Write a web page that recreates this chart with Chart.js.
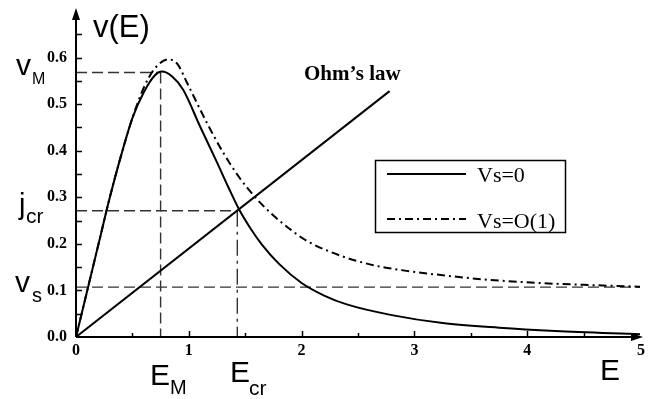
<!DOCTYPE html>
<html><head><meta charset="utf-8">
<script src="https://cdn.jsdelivr.net/npm/chart.js@4.4.1/dist/chart.umd.min.js"></script>
<style>html,body{margin:0;padding:0;background:#fff}canvas{display:block}</style>
</head><body>
<canvas id="c" width="654" height="399"></canvas>
<script>
// ---- data ----
const E_vs0 = [0, 0.1, 0.2, 0.3, 0.4, 0.5, 0.6, 0.7, 0.76, 0.85, 0.95, 1.1, 1.25, 1.35, 1.45, 1.55, 1.65, 1.8, 2.0, 2.2, 2.4, 2.8, 3.25, 3.75, 4.25, 5.0];
const v_vs0 = [0, 0.10, 0.20, 0.30, 0.39, 0.47, 0.525, 0.562, 0.570, 0.560, 0.531, 0.452, 0.375, 0.322, 0.272, 0.232, 0.198, 0.157, 0.116, 0.089, 0.070, 0.047, 0.030, 0.020, 0.013, 0.006];
const E_vs1 = [0, 0.1, 0.2, 0.3, 0.4, 0.5, 0.6, 0.7, 0.82, 0.9, 0.98, 1.16, 1.3, 1.45, 1.6, 1.75, 1.9, 2.05, 2.34, 2.64, 2.93, 3.2, 3.6, 4.1, 4.5, 5.0];
const v_vs1 = [0, 0.10, 0.20, 0.30, 0.39, 0.47, 0.535, 0.577, 0.596, 0.586, 0.548, 0.46, 0.398, 0.342, 0.297, 0.261, 0.231, 0.206, 0.175, 0.154, 0.142, 0.134, 0.124, 0.116, 0.112, 0.108];
const E_ohm = [0, 2.78];
const v_ohm = [0, 0.528];
const v_M = 0.568, E_M = 0.75;
const j_cr = 0.271, E_cr = 1.43;
const v_s = 0.107;
const seriesLabels = ['Vs=0', 'Vs=O(1)'];
const xTickValues = [0, 1, 2, 3, 4, 5];
const xTickLabels = ['0', '1', '2', '3', '4', '5'];
const yTickValues = [0, 0.1, 0.2, 0.3, 0.4, 0.5, 0.6];
const yTickLabels = ['0.0', '0.1', '0.2', '0.3', '0.4', '0.5', '0.6'];

const pts = (xs, ys) => xs.map((x, i) => ({x, y: ys[i]}));
const DASH = [11, 5];
const DASHDOT = [8, 4, 2, 4];

const refStyle = {borderColor: '#333', borderWidth: 1.4, borderDash: DASH, pointRadius: 0, order: 5, tension: 0, fill: false};
const datasets = [
  {label: seriesLabels[0], data: pts(E_vs0, v_vs0), borderColor: '#000', borderWidth: 2, pointRadius: 0, cubicInterpolationMode: 'monotone', order: 0, fill: false},
  {label: seriesLabels[1], data: pts(E_vs1, v_vs1), borderColor: '#000', borderWidth: 2, borderDash: DASHDOT, pointRadius: 0, cubicInterpolationMode: 'monotone', order: 1, fill: false},
  {label: 'ohm', data: pts(E_ohm, v_ohm), borderColor: '#000', borderWidth: 2, pointRadius: 0, order: 2, fill: false},
  Object.assign({label: 'vM-h', data: [{x: 0, y: v_M}, {x: E_M, y: v_M}]}, refStyle),
  Object.assign({label: 'EM-v', data: [{x: E_M, y: v_M}, {x: E_M, y: 0}]}, refStyle),
  Object.assign({label: 'jcr-h', data: [{x: 0, y: j_cr}, {x: E_cr, y: j_cr}]}, refStyle),
  Object.assign({}, refStyle, {label: 'Ecr-v', data: [{x: E_cr, y: j_cr}, {x: E_cr, y: 0}], borderDash: [16, 5, 3, 5]}),
  Object.assign({label: 'vs-h', data: [{x: 0, y: v_s}, {x: 5, y: v_s}]}, refStyle)
];

function txt(ctx, s, x, y, font, align) {
  ctx.font = font; ctx.textAlign = align || 'left'; ctx.textBaseline = 'alphabetic';
  ctx.fillText(s, x, y);
}

const axesPlugin = {
  id: 'axes',
  afterDatasetsDraw(chart) {
    const ctx = chart.ctx, xs = chart.scales.x, ys = chart.scales.y;
    const x0 = xs.getPixelForValue(0), y0 = ys.getPixelForValue(0);
    const xEnd = xs.getPixelForValue(5), yTop = ys.getPixelForValue(0.7);
    ctx.save();
    ctx.strokeStyle = '#000'; ctx.fillStyle = '#000'; ctx.lineWidth = 2; ctx.setLineDash([]);
    // axis lines
    ctx.beginPath(); ctx.moveTo(x0, y0); ctx.lineTo(x0, yTop + 4); ctx.stroke();
    ctx.beginPath(); ctx.moveTo(x0, y0); ctx.lineTo(xEnd - 2, y0); ctx.stroke();
    // arrows
    ctx.beginPath(); ctx.moveTo(x0, yTop - 3); ctx.lineTo(x0 - 4, yTop + 9); ctx.lineTo(x0 + 4, yTop + 9); ctx.closePath(); ctx.fill();
    ctx.beginPath(); ctx.moveTo(xEnd + 3, y0); ctx.lineTo(xEnd - 9, y0 - 4); ctx.lineTo(xEnd - 9, y0 + 4); ctx.closePath(); ctx.fill();
    // y ticks
    ctx.lineWidth = 1.5;
    for (let v = 0.05; v < 0.69; v += 0.05) {
      const y = Math.round(ys.getPixelForValue(v)) + 0.5;
      ctx.beginPath(); ctx.moveTo(x0, y); ctx.lineTo(x0 + 6, y); ctx.stroke();
    }
    // x ticks
    for (let k = 1; k < 10; k++) {
      const e = k * 0.5;
      const x = Math.round(xs.getPixelForValue(e)) + 0.5;
      const len = (k % 2 === 0) ? 6 : 4;
      ctx.beginPath(); ctx.moveTo(x, y0); ctx.lineTo(x, y0 - len); ctx.stroke();
    }
    // tick labels
    yTickValues.forEach((v, i) => {
      ctx.font = 'bold 16px "Liberation Serif"'; ctx.textAlign = 'right'; ctx.textBaseline = 'middle';
      ctx.fillText(yTickLabels[i], x0 - 9, ys.getPixelForValue(v));
    });
    xTickValues.forEach((e, i) => {
      ctx.font = 'bold 16px "Liberation Serif"'; ctx.textAlign = 'center'; ctx.textBaseline = 'alphabetic';
      ctx.fillText(xTickLabels[i], xs.getPixelForValue(e) + (i === 5 ? 1 : 0), y0 + 18);
    });
    // annotation labels
    const sans = '"Liberation Sans", Arial, sans-serif';
    txt(ctx, 'v(E)', 93, 37, '31px ' + sans);
    txt(ctx, 'v', 16, 75, '30px ' + sans);
    txt(ctx, 'M', 32, 84, '16px ' + sans);
    txt(ctx, 'j', 19, 214, '29px ' + sans);
    txt(ctx, 'cr', 26, 223, '21px ' + sans);
    txt(ctx, 'v', 15, 292, '30px ' + sans);
    txt(ctx, 's', 32, 302, '20px ' + sans);
    txt(ctx, 'E', 150, 385, '30px ' + sans);
    txt(ctx, 'M', 170, 394, '20px ' + sans);
    txt(ctx, 'E', 230, 382, '30px ' + sans);
    txt(ctx, 'cr', 249, 395, '21px ' + sans);
    txt(ctx, 'E', 600, 380, '30px ' + sans);
    txt(ctx, 'Ohm\u2019s law', 304, 80, 'bold 21px "Liberation Serif"');
    // legend
    ctx.lineWidth = 1.5; ctx.strokeStyle = '#000';
    ctx.strokeRect(375.5, 160.5, 190, 72);
    const ds = chart.data.datasets;
    [[174, 182], [219, 228]].forEach((r, i) => {
      ctx.lineWidth = 2; ctx.setLineDash(ds[i].borderDash || []);
      ctx.beginPath(); ctx.moveTo(387, r[0]); ctx.lineTo(466, r[0]); ctx.stroke();
      ctx.setLineDash([]);
      txt(ctx, ds[i].label, 477, r[1], '22px "Liberation Serif"');
    });
    ctx.restore();
  }
};

new Chart(document.getElementById('c').getContext('2d'), {
  type: 'line',
  data: {datasets},
  options: {
    responsive: false, animation: false,
    layout: {padding: {left: 76, right: 14, top: 11, bottom: 62}},
    scales: {
      x: {type: 'linear', min: 0, max: 5, display: false},
      y: {type: 'linear', min: 0, max: 0.7, display: false}
    },
    plugins: {legend: {display: false}, tooltip: {enabled: false}},
    elements: {point: {radius: 0}}
  },
  plugins: [axesPlugin]
});
</script>
</body></html>
